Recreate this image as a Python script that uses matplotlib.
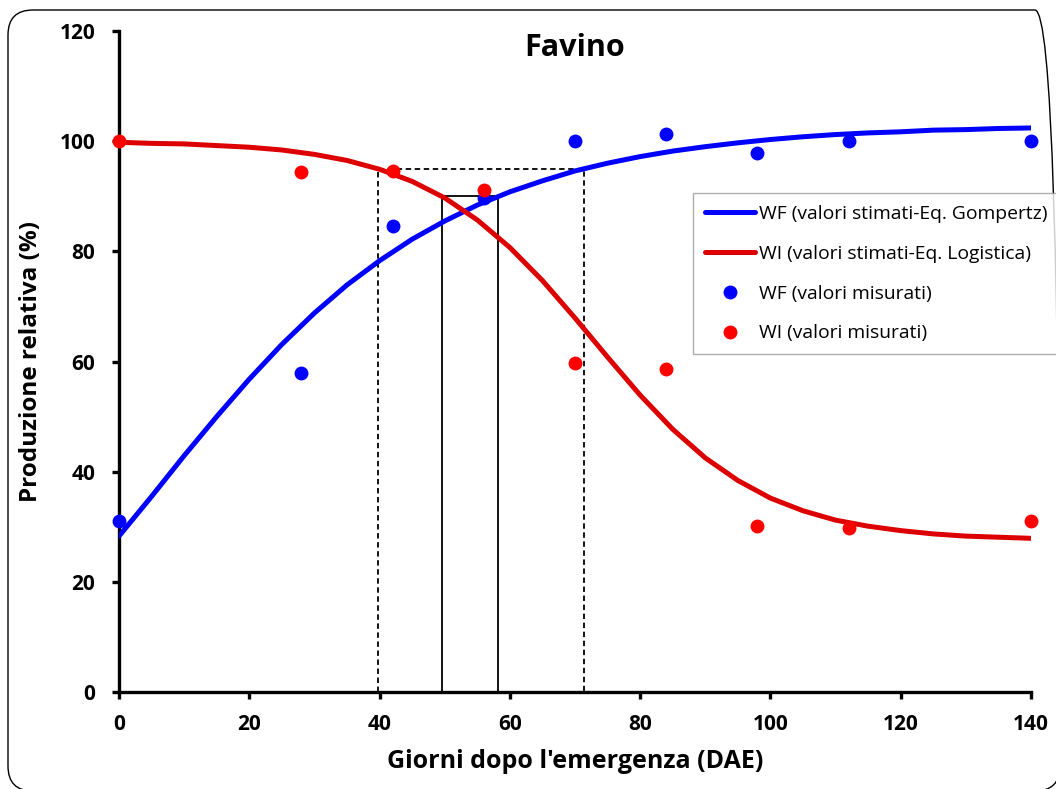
import matplotlib
matplotlib.use("Agg")
import matplotlib.pyplot as plt
from matplotlib.patches import FancyBboxPatch

# ---- data ----
days_meas = [0, 28, 42, 56, 70, 84, 98, 112, 140]
wf_meas = [31.0, 57.9, 84.6, 89.7, 100.0, 101.3, 97.9, 100.0, 100.0]
wi_meas = [100.0, 94.4, 94.6, 91.1, 59.7, 58.6, 30.1, 29.8, 31.0]

days_fit = [0, 5, 10, 15, 20, 25, 30, 35, 40, 45, 50, 55, 60, 65, 70,
            75, 80, 85, 90, 95, 100, 105, 110, 115, 120, 125, 130, 135, 140]
wf_fit = [28.3, 35.5, 42.9, 50.0, 56.8, 63.1, 68.8, 73.9, 78.3, 82.2, 85.5,
          88.4, 90.8, 92.8, 94.6, 96.0, 97.2, 98.2, 99.0, 99.7, 100.3, 100.8,
          101.2, 101.5, 101.7, 102.0, 102.1, 102.3, 102.4]
wi_fit = [99.8, 99.6, 99.5, 99.2, 98.9, 98.4, 97.6, 96.5, 94.9, 92.7, 89.7,
          85.7, 80.7, 74.7, 67.9, 60.8, 53.9, 47.7, 42.5, 38.4, 35.2, 32.9,
          31.2, 30.1, 29.3, 28.7, 28.3, 28.1, 27.9]

# thresholds (95% and 90%)
box95_x = [39.8, 71.4]
box95_y = 95
box90_x = [49.6, 58.2]
box90_y = 90

xticks = [0, 20, 40, 60, 80, 100, 120, 140]
yticks = [0, 20, 40, 60, 80, 100, 120]

labels = ["WF (valori stimati-Eq. Gompertz)", "WI (valori stimati-Eq. Logistica)",
          "WF (valori misurati)", "WI (valori misurati)"]

plt.rcParams['font.family'] = ['Open Sans', 'DejaVu Sans']

W, H = 1056, 789
fig = plt.figure(figsize=(W / 100, H / 100), dpi=100)
ax = fig.add_axes([119 / W, 97 / H, (1031 - 119) / W, (692 - 31) / H])

# rounded outer border (pixel coords)
border = FancyBboxPatch((8 + 25, -2 + 25), 1060 - 8 - 50, 779 + 2 - 50,
                        boxstyle="round,pad=25", transform=None,
                        facecolor='none', edgecolor='black', linewidth=1.0,
                        zorder=0)
fig.patches.append(border)

blue = '#0000FF'
red_line = '#DD0000'
red_dot = '#FF0000'

# threshold boxes
ax.plot([box95_x[0], box95_x[0], box95_x[1], box95_x[1]], [0, box95_y, box95_y, 0],
        color='black', linestyle=(0, (3, 2)), linewidth=1.3, zorder=2)
ax.plot([box90_x[0], box90_x[0], box90_x[1], box90_x[1]], [0, box90_y, box90_y, 0],
        color='black', linestyle='-', linewidth=1.3, zorder=2)

l1, = ax.plot(days_fit, wf_fit, color=blue, linewidth=3.6, zorder=3,
              solid_capstyle='round')
l2, = ax.plot(days_fit, wi_fit, color=red_line, linewidth=3.6, zorder=3,
              solid_capstyle='round')
s1, = ax.plot(days_meas, wf_meas, 'o', color=blue, markersize=10,
              markeredgewidth=0, zorder=4, clip_on=False)
s2, = ax.plot(days_meas, wi_meas, 'o', color=red_dot, markersize=10,
              markeredgewidth=0, zorder=5, clip_on=False)

ax.set_xlim(0, 140)
ax.set_ylim(0, 120)
ax.set_xticks(xticks)
ax.set_yticks(yticks)
for s in ['top', 'right']:
    ax.spines[s].set_visible(False)
for s in ['left', 'bottom']:
    ax.spines[s].set_linewidth(2.4)
ax.tick_params(direction='out', length=5, width=2.4, labelsize=15)
ax.yaxis.set_tick_params(pad=12)
ax.xaxis.set_tick_params(pad=11)
for t in ax.get_xticklabels() + ax.get_yticklabels():
    t.set_fontweight('bold')

ax.set_xlabel("Giorni dopo l'emergenza (DAE)", fontsize=18, fontweight='bold',
              labelpad=10)
ax.set_ylabel("Produzione relativa (%)", fontsize=17.5, fontweight='bold',
              labelpad=12)
ax.text(0.5, (692 - 48) / 661, "Favino", transform=ax.transAxes, ha='center',
        va='center', fontsize=22, fontweight='bold')

leg = fig.legend([l1, l2, s1, s2], labels, loc='upper left',
                 bbox_to_anchor=(693 / W, 1 - 193 / H), fontsize=13.9,
                 frameon=True, fancybox=False, handlelength=2.6,
                 labelspacing=1.13, borderpad=0.62, handletextpad=0.2,
                 borderaxespad=0)
leg.get_frame().set_edgecolor('#999999')
leg.get_frame().set_linewidth(1.0)

fig.savefig("out.png", dpi=100)
